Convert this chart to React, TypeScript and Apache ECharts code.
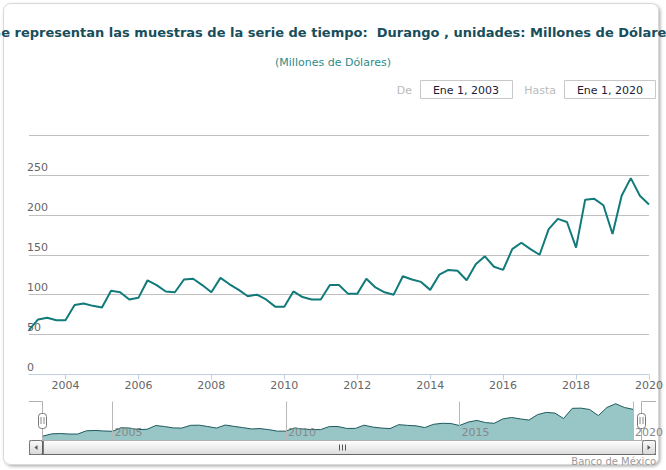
import React, { useEffect, useRef } from "react";
import * as echarts from "echarts";

const titleText = "Se representan las muestras de la serie de tiempo:  Durango , unidades: Millones de Dólares";
const subtitleText = "(Millones de Dólares)";
const creditsText = "Banco de México";
const fromLabel = "Ene 1, 2003";
const toLabel = "Ene 1, 2020";

const startYear = 2003;
const endYear = 2020;
// quarterly values, Millones de Dólares, 2003 Q1 .. 2020 Q1
const values = [
  56, 69, 71, 68, 68, 87, 89, 86, 84, 105, 103, 94, 96, 118, 112, 104, 103, 119, 120, 112,
  103, 121, 113, 106, 98, 100, 94, 85, 85, 104, 97, 94, 94, 112, 112, 101, 101, 120, 109, 103,
  100, 123, 119, 116, 106, 125, 131, 130, 118, 138, 148, 135, 131, 157, 165, 157, 150, 182, 195, 191,
  159, 219, 220, 212, 176, 224, 246, 224, 213,
];
const mainTickYears = [2004, 2006, 2008, 2010, 2012, 2014, 2016, 2018, 2020];
const navTickYears = [2005, 2010, 2015, 2020];
const yTicks = { min: 0, max: 300, interval: 50 };

const FONT = "DejaVu Sans";

export default function App() {
  const ref = useRef<HTMLDivElement>(null);
  useEffect(() => {
    if (!ref.current) return;
    const chart = echarts.init(ref.current, null, { renderer: "svg" });
    // x = year + quarter fraction (quarter starts)
    const data = values.map((v, i) => [startYear + Math.floor(i / 4) + (i % 4) / 4, v]);
    const yearFmt = (v: number) => String(Math.round(v));

    const grip = (x: number) => [
      { type: "line", z: 14, shape: { x1: x - 1.5, y1: 417, x2: x - 1.5, y2: 424 }, style: { stroke: "#888", lineWidth: 1 } },
      { type: "line", z: 14, shape: { x1: x + 1.5, y1: 417, x2: x + 1.5, y2: 424 }, style: { stroke: "#888", lineWidth: 1 } },
    ];

    const btnFill = () =>
      new echarts.graphic.LinearGradient(0, 0, 0, 1, [
        { offset: 0, color: "#fafafa" },
        { offset: 1, color: "#d8d8d8" },
      ]);

    chart.setOption({
      animation: false,
      textStyle: { fontFamily: FONT },
      grid: [
        { left: 29, top: 135, width: 627, height: 239.5 },
        { left: 43, top: 401.5, width: 599, height: 38.5 },
      ],
      xAxis: [
        {
          type: "value",
          gridIndex: 0,
          min: startYear,
          max: endYear,
          axisLine: { show: true, onZero: false, lineStyle: { color: "#C0D0E0", width: 1 } },
          axisTick: { show: true, length: 5, lineStyle: { color: "#C0D0E0" }, customValues: mainTickYears },
          axisLabel: {
            color: "#666",
            fontSize: 11,
            fontFamily: FONT,
            margin: 5,
            customValues: mainTickYears,
            formatter: yearFmt,
          },
          splitLine: { show: false },
        },
        {
          type: "value",
          gridIndex: 1,
          min: startYear,
          max: endYear,
          z: 5,
          axisLine: { show: false, onZero: false },
          axisTick: { show: false, customValues: navTickYears },
          axisLabel: {
            inside: true,
            color: "#888",
            fontSize: 11,
            fontFamily: FONT,
            align: "left",
            verticalAlign: "bottom",
            margin: 2,
            padding: [0, 0, 0, 2],
            customValues: navTickYears,
            formatter: yearFmt,
          },
          splitLine: { show: true, lineStyle: { color: "#b8b8b8", width: 1 } },
        },
      ],
      yAxis: [
        {
          type: "value",
          gridIndex: 0,
          min: yTicks.min,
          max: yTicks.max,
          interval: yTicks.interval,
          axisLine: { show: false },
          axisTick: { show: false },
          axisLabel: {
            inside: true,
            align: "left",
            verticalAlign: "bottom",
            margin: -2,
            padding: [0, 0, 2, 0],
            color: "#666",
            fontSize: 11,
            fontFamily: FONT,
            formatter: (v: number) => (v === yTicks.max ? "" : String(v)),
          },
          splitLine: { show: true, lineStyle: { color: "#C0C0C0", width: 1 } },
        },
        {
          type: "value",
          gridIndex: 1,
          min: 33,
          max: 259,
          show: false,
          splitLine: { show: false },
        },
      ],
      series: [
        {
          type: "line",
          xAxisIndex: 0,
          yAxisIndex: 0,
          data,
          showSymbol: false,
          lineStyle: { color: "#117a7a", width: 2 },
          itemStyle: { color: "#117a7a" },
          z: 3,
        },
        {
          type: "line",
          xAxisIndex: 1,
          yAxisIndex: 1,
          data,
          showSymbol: false,
          lineStyle: { color: "#1d5a5e", width: 1 },
          itemStyle: { color: "#1d5a5e" },
          areaStyle: { origin: "start", color: "#98c6c7", opacity: 1 },
          z: 2,
        },
      ],
      graphic: [
        {
          type: "rect",
          z: -10,
          silent: true,
          shape: { x: 3.5, y: 3.5, width: 655, height: 461, r: 7 },
          style: {
            fill: "#fff",
            stroke: "#d9d9d9",
            lineWidth: 1,
            shadowBlur: 3,
            shadowOffsetX: 1.5,
            shadowOffsetY: 1.5,
            shadowColor: "rgba(0,0,0,0.3)",
          },
        },
        {
          type: "text",
          z: 5,
          x: 333,
          y: 32,
          style: {
            text: titleText,
            fill: "#174e5c",
            font: `bold 13px "${FONT}"`,
            textAlign: "center",
            textVerticalAlign: "middle",
          },
        },
        {
          type: "text",
          z: 5,
          x: 333,
          y: 62,
          style: {
            text: subtitleText,
            fill: "#2a8c8c",
            font: `11px "${FONT}"`,
            textAlign: "center",
            textVerticalAlign: "middle",
          },
        },
        {
          type: "text",
          z: 5,
          x: 412,
          y: 90,
          style: { text: "De", fill: "#bbb", font: `11px "${FONT}"`, textAlign: "right", textVerticalAlign: "middle" },
        },
        {
          type: "rect",
          z: 5,
          shape: { x: 420.5, y: 80.5, width: 92, height: 18 },
          style: { fill: "#fff", stroke: "#c8c8c8", lineWidth: 1 },
        },
        {
          type: "text",
          z: 6,
          x: 466,
          y: 90,
          style: { text: fromLabel, fill: "#1b1b3a", font: `11px "${FONT}"`, textAlign: "center", textVerticalAlign: "middle" },
        },
        {
          type: "text",
          z: 5,
          x: 556,
          y: 90,
          style: { text: "Hasta", fill: "#bbb", font: `11px "${FONT}"`, textAlign: "right", textVerticalAlign: "middle" },
        },
        {
          type: "rect",
          z: 5,
          shape: { x: 564.5, y: 80.5, width: 91, height: 18 },
          style: { fill: "#fff", stroke: "#c8c8c8", lineWidth: 1 },
        },
        {
          type: "text",
          z: 6,
          x: 610,
          y: 90,
          style: { text: toLabel, fill: "#1b1b3a", font: `11px "${FONT}"`, textAlign: "center", textVerticalAlign: "middle" },
        },
        {
          type: "polyline",
          z: 10,
          shape: { points: [[29, 401.5], [42.5, 401.5], [42.5, 440]] },
          style: { stroke: "#b2b1b6", lineWidth: 1, fill: null },
        },
        {
          type: "polyline",
          z: 10,
          shape: { points: [[641.5, 440], [641.5, 401.5], [656, 401.5]] },
          style: { stroke: "#b2b1b6", lineWidth: 1, fill: null },
        },
        {
          type: "rect",
          z: 10,
          shape: { x: 29.5, y: 440.5, width: 626, height: 14 },
          style: {
            fill: new echarts.graphic.LinearGradient(0, 0, 0, 1, [
              { offset: 0, color: "#ffffff" },
              { offset: 1, color: "#dcdcdc" },
            ]),
            stroke: "#b0b0b0",
            lineWidth: 1,
          },
        },
        {
          type: "line",
          z: 11,
          shape: { x1: 29, y1: 454.5, x2: 656, y2: 454.5 },
          style: { stroke: "#666", lineWidth: 1 },
        },
        {
          type: "rect",
          z: 11,
          shape: { x: 29.5, y: 440.5, width: 13, height: 14, r: 2 },
          style: { fill: btnFill(), stroke: "#777", lineWidth: 1 },
        },
        {
          type: "polygon",
          z: 12,
          shape: { points: [[37.5, 445], [37.5, 450], [34.5, 447.5]] },
          style: { fill: "#555" },
        },
        {
          type: "rect",
          z: 11,
          shape: { x: 642.5, y: 440.5, width: 13, height: 14, r: 2 },
          style: { fill: btnFill(), stroke: "#777", lineWidth: 1 },
        },
        {
          type: "polygon",
          z: 12,
          shape: { points: [[647.5, 445], [647.5, 450], [650.5, 447.5]] },
          style: { fill: "#555" },
        },
        {
          type: "line",
          z: 12,
          shape: { x1: 43, y1: 441, x2: 43, y2: 454 },
          style: { stroke: "#555", lineWidth: 1.5 },
        },
        ...[339.5, 342.5, 345.5].map((x) => ({
          type: "line",
          z: 12,
          shape: { x1: x, y1: 444.5, x2: x, y2: 450.5 },
          style: { stroke: "#555", lineWidth: 1 },
        })),
        {
          type: "rect",
          z: 13,
          shape: { x: 38.5, y: 413.5, width: 8, height: 15, r: 3 },
          style: { fill: "#fff", stroke: "#777", lineWidth: 1 },
        },
        ...grip(42.5),
        {
          type: "rect",
          z: 13,
          shape: { x: 637.5, y: 413.5, width: 8, height: 15, r: 3 },
          style: { fill: "#fff", stroke: "#777", lineWidth: 1 },
        },
        ...grip(641.5),
        {
          type: "text",
          z: 5,
          x: 656,
          y: 461,
          style: { text: creditsText, fill: "#999", font: `10px "${FONT}"`, textAlign: "right", textVerticalAlign: "middle" },
        },
      ],
    });
    return () => chart.dispose();
  }, []);
  return (
    <div style={{ position: "fixed", left: 0, top: 0, width: 666, height: 470, background: "#fff" }}>
      <div ref={ref} style={{ width: 666, height: 470 }} />
    </div>
  );
}
